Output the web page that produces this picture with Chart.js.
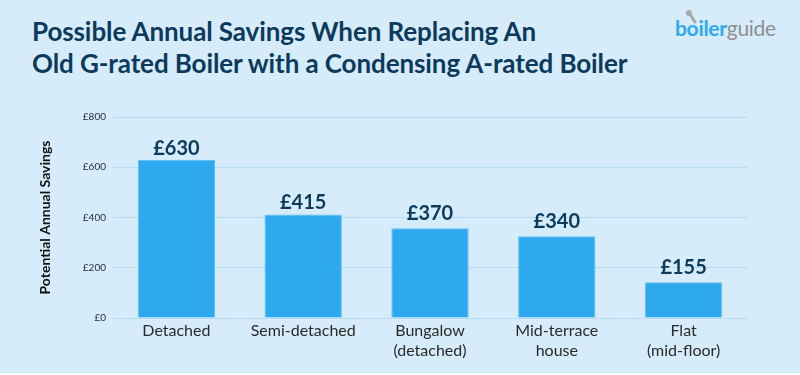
<!DOCTYPE html>
<html>
<head>
<meta charset="utf-8">
<script src="https://cdn.jsdelivr.net/npm/chart.js@4.4.1/dist/chart.umd.min.js"></script>
<style>
  html, body { margin: 0; padding: 0; background: #ffffff; }
  #wrap { position: relative; width: 800px; height: 375px; overflow: hidden; }
  #bg { position: absolute; left: 0; top: 0; width: 800px; height: 373px; background: #d6ecfa; }
  #title { position: absolute; left: 32px; top: 15px; margin: 0; font-family: Lato, sans-serif; font-weight: 700;
           font-size: 26px; line-height: 32px; color: #0c3a5c; letter-spacing: -0.1px; }
  #logo { position: absolute; left: 675px; top: 15px; font-family: Lato, sans-serif; font-size: 21px; line-height: 26px; letter-spacing: -0.3px; }
  #logo .b { color: #2ea8ee; font-weight: 700; }
  #logo .g { color: #8f8f8f; font-weight: 400; }
  #wrench { position: absolute; left: 686px; top: 10px; }
  canvas { position: absolute; left: 0; top: 0; }
</style>
</head>
<body>
<div id="wrap">
  <div id="bg"></div>
  <h1 id="title">Possible Annual Savings When Replacing An<br>Old G-rated Boiler with a Condensing A-rated Boiler</h1>
  <svg id="wrench" width="14" height="16" viewBox="0 0 14 16">
    <line x1="3" y1="3" x2="9" y2="12" stroke="#a9a9a9" stroke-width="3" stroke-linecap="round"/>
    <circle cx="3" cy="3" r="3" fill="#a9a9a9"/>
  </svg>
  <div id="logo"><span class="b">boiler</span><span class="g">guide</span></div>
  <canvas id="c" width="800" height="375"></canvas>
</div>
<script>
const categories = [["Detached"], ["Semi-detached"], ["Bungalow", "(detached)"], ["Mid-terrace", "house"], ["Flat", "(mid-floor)"]];
const barValues = [630, 412, 357, 325, 142];
const labelValues = [630, 415, 370, 340, 155];
const yTicks = [0, 200, 400, 600, 800];

const barLabelPlugin = {
  id: 'barLabels',
  afterDatasetsDraw(chart) {
    const ctx = chart.ctx;
    const meta = chart.getDatasetMeta(0);
    const y = chart.scales.y;
    ctx.save();
    ctx.font = '700 20px Lato, sans-serif';
    ctx.fillStyle = '#0c3a5c';
    ctx.textAlign = 'center';
    ctx.textBaseline = 'alphabetic';
    meta.data.forEach((bar, i) => {
      ctx.fillText('£' + labelValues[i], bar.x, y.getPixelForValue(labelValues[i]) - 5);
    });
    ctx.restore();
  }
};

new Chart(document.getElementById('c'), {
  type: 'bar',
  data: {
    labels: categories,
    datasets: [{
      data: barValues,
      backgroundColor: '#2ea8ee',
      borderColor: '#5cbdf2',
      borderWidth: 1,
      categoryPercentage: 1,
      barPercentage: 0.61
    }]
  },
  options: {
    responsive: false,
    animation: false,
    layout: { padding: { left: 30, right: 53, top: 117, bottom: 15 } },
    plugins: { legend: { display: false }, tooltip: { enabled: false }, title: { display: false } },
    scales: {
      x: {
        grid: { display: false, drawTicks: false },
        border: { display: false },
        ticks: { color: '#2a2a2a', font: { family: 'Lato, sans-serif', size: 16, lineHeight: 1.3 }, padding: 2, maxRotation: 0, autoSkip: false },
        afterFit(s) { s.height = 42; }
      },
      y: {
        min: 0, max: 800,
        afterBuildTicks(s) { s.ticks = yTicks.map(v => ({ value: v })); },
        grid: { color: '#b6dcf4', lineWidth: 1, drawTicks: false },
        border: { display: false },
        ticks: { color: '#1d2b45', font: { family: 'Lato, sans-serif', size: 10 }, padding: 7, callback: v => '£' + v },
        title: { display: true, text: 'Potential Annual Savings', color: '#111111', font: { family: 'Lato, sans-serif', size: 14, weight: '700' }, padding: { top: 7, bottom: 0 } },
        afterFit(s) { s.width = 83; }
      }
    }
  },
  plugins: [barLabelPlugin]
});
</script>
</body>
</html>
